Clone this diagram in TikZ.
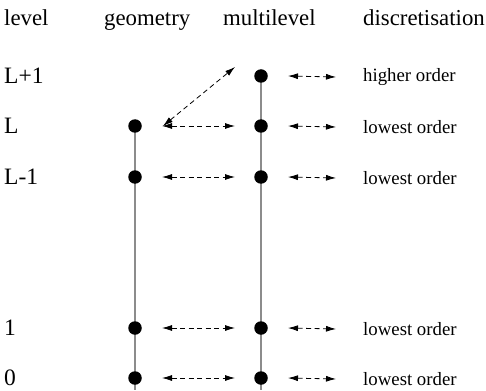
\documentclass[tikz,border=0pt]{standalone}
\usepackage{fontspec}
\setmainfont{Liberation Serif}
\usetikzlibrary{arrows.meta}
\begin{document}
\begin{tikzpicture}[x=1pt,y=-1pt,
  dot/.style={circle,fill=black,inner sep=0pt,minimum size=13.5pt},
  head/.style={font=\fontsize{22.8}{24}\selectfont,anchor=base west,inner sep=0pt},
  lev/.style={font=\fontsize{23.5}{24}\selectfont,anchor=west,inner sep=0pt},
  disc/.style={font=\fontsize{18.8}{20}\selectfont,anchor=west,inner sep=0pt},
  pole/.style={draw=black!45,line width=1.3pt},
  link/.style={dashed,dash pattern=on 5pt off 3.5pt,line width=0.8pt,{Latex[length=10pt,width=6pt]}-{Latex[length=10pt,width=6pt]}}]
\useasboundingbox (0,0) rectangle (486,390);
% headers
\node[head] (hl) at (4,26) {level};
\node[head] (hg) at (104,26) {geometry};
\node[head] (hm) at (223,26) {multilevel};
\node[head] (hd) at (363,26) {discretisation};
% level labels
\node[lev] (l5) at (4,76) {L+1};
\node[lev] (l4) at (4,126) {L};
\node[lev] (l3) at (4,177) {L-1};
\node[lev] (l1) at (4,328) {1};
\node[lev] (l0) at (4,378) {0};
% poles
\coordinate (gb) at (135,390);
\coordinate (mb) at (261,390);
\draw[pole] (135,126) -- (gb);
\draw[pole] (261,76) -- (mb);
% dots
\node[dot] (g4) at (135,126) {};
\node[dot] (g3) at (135,177) {};
\node[dot] (g1) at (135,328) {};
\node[dot] (g0) at (135,378) {};
\node[dot] (m5) at (261,76) {};
\node[dot] (m4) at (261,126) {};
\node[dot] (m3) at (261,177) {};
\node[dot] (m1) at (261,328) {};
\node[dot] (m0) at (261,378) {};
% discretisation labels
\node[disc] (d5) at (363,77) {higher order};
\node[disc] (d4) at (363,127) {lowest order};
\node[disc] (d3) at (363,178) {lowest order};
\node[disc] (d1) at (363,329) {lowest order};
\node[disc] (d0) at (363,379) {lowest order};
% geometry-multilevel links
\foreach \i in {4,3,1,0}{
  \draw[link] ([xshift=27pt]g\i.center) -- ([xshift=-26pt]m\i.center);
}
\draw[link] ([xshift=28pt]g4.center) -- ([xshift=-26pt,yshift=9pt]m5.center);
% multilevel-discretisation links
\foreach \i in {5,4,3,1,0}{
  \draw[link] ([xshift=27pt]m\i.center) -- ([xshift=-27pt]d\i.west);
}
\end{tikzpicture}
\end{document}
